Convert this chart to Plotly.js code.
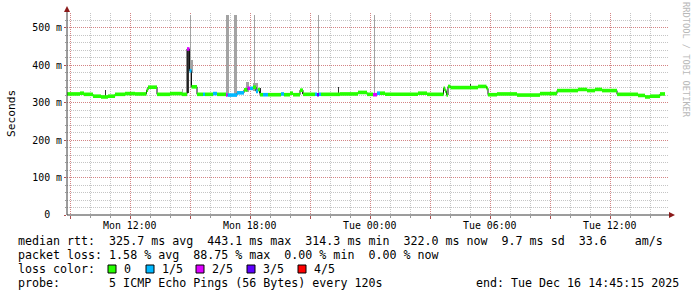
<!DOCTYPE html>
<html><head><meta charset="utf-8">
<script src="https://cdn.plot.ly/plotly-3.0.1.min.js"></script>
<style>html,body{margin:0;padding:0;background:#fff;}#chart{width:697px;height:297px;}</style>
</head><body><div id="chart"></div>
<script>
// ---- DATA (time in hours since Mon 00:00, values in ms) ----
const medianStart = [8.85,9.5,9.7,10.15,10.55,10.9,11.25,11.75,12.25,12.825,12.9,13.35,14.0,14.6,
  14.85,14.975,15.075,15.35,15.65,15.75,16.15,16.35,16.8,16.875,17.35,17.7,17.875,18.0,18.15,18.3,18.4,
  18.5,18.65,18.9,19.55,19.7,20.0,20.15,20.5,20.65,21.25,21.35,21.45,21.55,22.5,23.4,23.85,24.15,24.35,
  24.5,24.75,26.4,26.85,27.675,27.75,27.825,27.9,28.025,29.4,29.825,29.9,30.35,31.35,32.5,33.35,34.4,
  34.85,35.25,35.6,36.35,37.4,37.75,38.0,38.5];
const medianMs = [323,325,322,317,315,317,322,324,323,333,341,322,324,322,
  443,385,342,322,322,322,324,322,320,320,326,334,338,338,341,330,335,
  321,321,321,323,321,325,321,333,322,322,321,322,322,323,327,322,321,325,
  325,322,325,322,338,331,320,343,340,343,338,321,323,320,324,332,335,
  332,335,332,322,319,315,317,323];
const medianLoss = [0,0,0,0,0,0,0,0,0,0,0,0,0,0,
  2,1,0,0,1,0,1,0,2,1,1,0,2,1,0,1,0,
  0,1,0,1,0,0,0,0,0,1,3,1,0,0,0,0,2,1,
  0,0,0,0,0,0,0,0,0,0,0,0,0,0,0,0,0,
  0,0,0,0,0,0,0,0];
const dataEnd = 38.75;

const lightSmokeStart = [14.60,14.975,14.975,16.80,17.20,17.80,18.15,18.175,21.39,24.175];
const lightSmokeEnd   = [14.65,15.025,15.15,16.97,17.36,17.95,18.40,18.225,21.44,24.225];
const lightSmokeLo    = [322,340,380,320,322,328,330,340,322,322];
const lightSmokeHi    = [336,534,414,534,534,356,352,534,534,534];

const darkSmokeStart = [10.725,14.84,18.45,20.575,22.375,28.975];
const darkSmokeEnd   = [10.775,14.97,18.55,20.625,22.425,29.025];
const darkSmokeLo    = [316,325,325,322,322,340];
const darkSmokeHi    = [333,440,338,333,342,350];

const lossColors = ['#26ff00','#00b8ff','#dd00ff','#5e00ff','#ff0000'];
const lossLabels = ['0','1/5','2/5','3/5','4/5'];

const xGridHours = [9,12,15,18,21,24,27,30,33,36];
const xLabelHours = [12,18,24,30,36];
const xLabelText = ['Mon 12:00','Mon 18:00','Tue 00:00','Tue 06:00','Tue 12:00'];
const yTickVals = [0,100,200,300,400,500];
const yTickText = ['0  ','100 m','200 m','300 m','400 m','500 m'];

const legendLines = [
  'median rtt:  325.7 ms avg  443.1 ms max  314.3 ms min  322.0 ms now  9.7 ms sd  33.6    am/s',
  'packet loss: 1.58 % avg  88.75 % max  0.00 % min  0.00 % now',
  'loss color:',
  'probe:       5 ICMP Echo Pings (56 Bytes) every 120s'
];
const endText = 'end: Tue Dec 16 14:45:15 2025';
const watermark = 'RRDTOOL / TOBI OETIKER';

// ---- GEOMETRY helpers ----
const P = {l:67, t:13, w:601, h:202};
const px = x => (x - P.l) / P.w;
const py = y => (P.t + P.h - y) / P.h;
const nb = s => s.replace(/ /g, '\u00a0');

const traces = [];
function smoke(starts, ends, lo, hi, color) {
  traces.push({
    type:'bar', x: starts.map((s,i)=>(s+ends[i])/2), width: starts.map((s,i)=>ends[i]-s),
    base: lo, y: hi.map((h,i)=>h-lo[i]), marker:{color:color, line:{width:0}},
    hoverinfo:'skip'
  });
}
smoke(lightSmokeStart, lightSmokeEnd, lightSmokeLo, lightSmokeHi, '#a3a3a3');
smoke(darkSmokeStart, darkSmokeEnd, darkSmokeLo, darkSmokeHi, '#333333');

const segEnd = medianStart.slice(1).concat([dataEnd]);
traces.push({
  type:'scatter', mode:'lines', x: medianStart.concat([dataEnd]), y: medianMs.concat([medianMs[medianMs.length-1]]),
  line:{color:'#101010', width:1, shape:'hv'}, hoverinfo:'skip'
});
lossColors.forEach((c, li) => {
  const xs = [], ys = [];
  medianStart.forEach((s,i) => {
    if (medianLoss[i] === li) { xs.push(s, segEnd[i], null); ys.push(medianMs[i], medianMs[i], null); }
  });
  if (xs.length) traces.push({type:'scatter', mode:'lines', x:xs, y:ys, line:{color:c, width:3.6}, hoverinfo:'skip'});
});

const MONO = 'DejaVu Sans Mono';
const LEG = 11.65;
const majorGrid = 'rgba(215,110,110,0.75)';
const minorGrid = 'rgba(150,150,150,0.55)';

const annotations = [];
xLabelHours.forEach((h,i) => annotations.push({
  xref:'x', yref:'paper', x:h, y:py(225), xanchor:'center', yanchor:'middle',
  text:nb(xLabelText[i]), showarrow:false, font:{family:MONO, size:9.9, color:'#000'}
}));
const legendY = [241, 255, 269, 283];
legendLines.forEach((t,i) => annotations.push({
  xref:'paper', yref:'paper', x:px(16), y:py(legendY[i]), xanchor:'left', yanchor:'middle',
  text:nb(t), showarrow:false, font:{family:MONO, size:LEG, color:'#000'}
}));
annotations.push({xref:'paper', yref:'paper', x:px(681), y:py(283), xanchor:'right', yanchor:'middle',
  text:nb(endText), showarrow:false, font:{family:MONO, size:LEG, color:'#000'}});
const boxX = [108,146,196,247,298];
const shapes = [];
lossLabels.forEach((lab,i) => {
  shapes.push({type:'rect', xref:'paper', yref:'paper', x0:px(boxX[i]), x1:px(boxX[i]+8), y0:py(273), y1:py(265),
    fillcolor:lossColors[i], line:{color:'#000', width:1}});
  annotations.push({xref:'paper', yref:'paper', x:px(boxX[i]+14), y:py(269), xanchor:'left', yanchor:'middle',
    text:nb(lab), showarrow:false, font:{family:MONO, size:LEG, color:'#000'}});
});
annotations.push({xref:'paper', yref:'paper', x:px(11), y:py(114), xanchor:'center', yanchor:'middle',
  text:'Seconds', textangle:-90, showarrow:false, font:{family:MONO, size:11.2, color:'#000'}});
annotations.push({xref:'paper', yref:'paper', x:px(686), y:py(60), xanchor:'center', yanchor:'middle',
  text:nb(watermark), textangle:90, showarrow:false, font:{family:MONO, size:8.7, color:'#b8b8b8'}});

shapes.push({type:'line', xref:'paper', yref:'paper', x0:0, x1:0, y0:0, y1:py(9), line:{color:'#3a3a3a', width:1}});
shapes.push({type:'line', xref:'paper', yref:'paper', x0:0, x1:px(670), y0:0, y1:0, line:{color:'#3a3a3a', width:1}});
shapes.push({type:'path', xref:'paper', yref:'paper',
  path:`M ${px(64)} ${py(12)} L ${px(70)} ${py(12)} L ${px(67)} ${py(6)} Z`, fillcolor:'#8b1a1a', line:{width:0}});
shapes.push({type:'path', xref:'paper', yref:'paper',
  path:`M ${px(669)} ${py(212)} L ${px(669)} ${py(218)} L ${px(675)} ${py(215)} Z`, fillcolor:'#8b1a1a', line:{width:0}});

const layout = {
  width:697, height:297,
  margin:{l:P.l, r:697-P.l-P.w, t:P.t, b:297-P.t-P.h, pad:0},
  paper_bgcolor:'#fff', plot_bgcolor:'#fff', showlegend:false,
  barmode:'overlay', bargap:0,
  font:{family:MONO, size:9.9, color:'#000'},
  xaxis:{range:[8.85,38.9], tickmode:'array', tickvals:xGridHours, showticklabels:false,
    showgrid:true, gridcolor:majorGrid, griddash:'1px,1px', gridwidth:1,
    zeroline:false, showline:false, ticks:'outside', ticklen:3, tickcolor:'#b05050', tickwidth:1,
    minor:{dtick:1, tick0:0, showgrid:true, gridcolor:minorGrid, griddash:'1px,1px', gridwidth:1,
      ticks:'outside', ticklen:2, tickcolor:'#999'}},
  yaxis:{range:[0,539], tickmode:'array', tickvals:yTickVals, ticktext:yTickText.map(nb),
    showgrid:true, gridcolor:majorGrid, griddash:'1px,1px', gridwidth:1,
    zeroline:false, showline:false, ticks:'outside', ticklen:2, tickcolor:'#b05050',
    tickfont:{family:MONO, size:9.9, color:'#000'}, ticklabelstandoff:0,
    minor:{dtick:20, tick0:0, showgrid:true, gridcolor:minorGrid, griddash:'1px,1px', gridwidth:1,
      ticks:'outside', ticklen:1, tickcolor:'#999'}},
  annotations, shapes
};
Plotly.newPlot('chart', traces, layout, {staticPlot:true, displayModeBar:false});
</script></body></html>
